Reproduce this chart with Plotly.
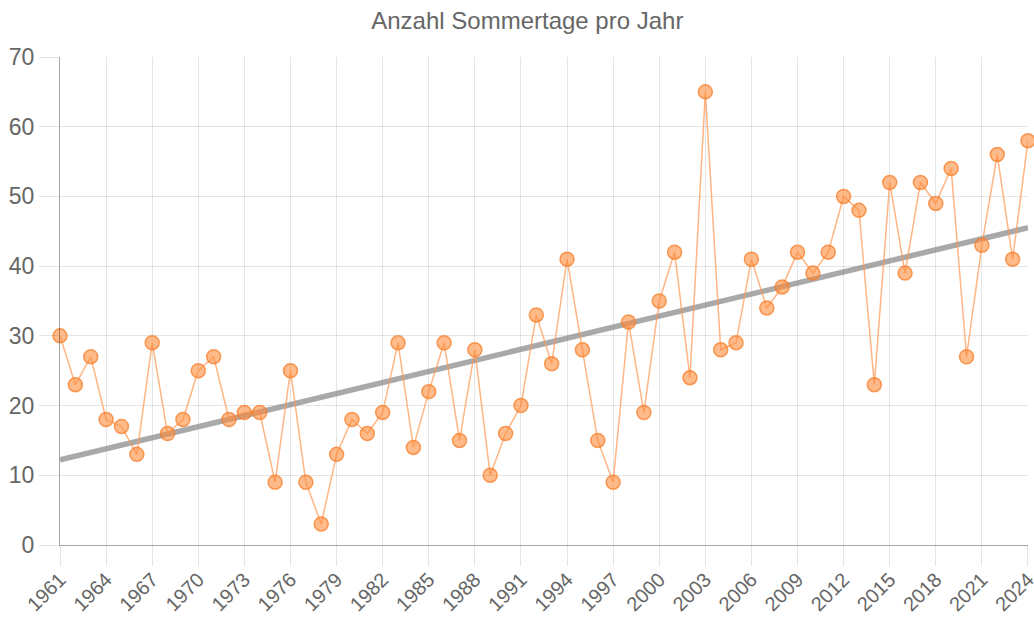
import numpy as np
import plotly.graph_objects as go

years = list(range(1961, 2025))
sommertage = [30, 23, 27, 18, 17, 13, 29, 16, 18, 25,
              27, 18, 19, 19, 9, 25, 9, 3, 13, 18,
              16, 19, 29, 14, 22, 29, 15, 28, 10, 16,
              20, 33, 26, 41, 28, 15, 9, 32, 19, 35,
              42, 24, 65, 28, 29, 41, 34, 37, 42, 39,
              42, 50, 48, 23, 52, 39, 52, 49, 54, 27,
              43, 56, 41, 58]
tick_years = list(range(1961, 2025, 3))
title_text = "Anzahl Sommertage pro Jahr"

coef = np.polyfit(years, sommertage, 1)
trend = np.polyval(coef, years)

fig = go.Figure()
fig.add_trace(go.Scatter(
    x=years, y=trend, mode="lines",
    line=dict(color="rgba(140,140,140,0.75)", width=5.5),
    hoverinfo="skip", showlegend=False,
))
fig.add_trace(go.Scatter(
    x=years, y=sommertage, mode="lines+markers",
    line=dict(color="rgba(255,150,80,0.7)", width=1.5),
    marker=dict(size=14, color="rgba(255,140,60,0.6)",
                line=dict(color="rgba(245,125,40,0.75)", width=1.5)),
    cliponaxis=False, showlegend=False, name="Sommertage",
))

fig.update_layout(
    width=1034, height=617,
    margin=dict(l=60, r=6, t=57, b=72, autoexpand=False),
    paper_bgcolor="white", plot_bgcolor="white",
    font=dict(family="Liberation Sans, Arial, sans-serif", color="#666666"),
    title=dict(text=title_text, x=0.51, xanchor="center", y=0.967, yanchor="middle",
               font=dict(size=24, color="#666666")),
)
fig.update_xaxes(
    range=[1960.999, 2024.001], tickvals=tick_years, ticktext=[str(y) for y in tick_years],
    tickangle=-45, tickfont=dict(size=20, color="#666666"), automargin=False,
    ticklabeloverflow="allow", ticklabelstandoff=-6,
    showgrid=True, gridcolor="rgba(0,0,0,0.1)", gridwidth=1,
    ticks="outside", ticklen=20, tickcolor="rgba(0,0,0,0.1)",
    showline=True, linecolor="rgba(0,0,0,0.35)", linewidth=1,
    zeroline=False,
)
fig.update_yaxes(
    range=[0, 70], dtick=10, tickfont=dict(size=23, color="#666666"), automargin=False,
    showgrid=True, gridcolor="rgba(0,0,0,0.1)", gridwidth=1,
    ticks="outside", ticklen=20, tickcolor="rgba(0,0,0,0.1)",
    showline=True, linecolor="rgba(0,0,0,0.35)", linewidth=1,
    zeroline=False,
)

fig.write_html("out.html", config={"displayModeBar": False},
               post_script="document.body.style.margin='0';")
